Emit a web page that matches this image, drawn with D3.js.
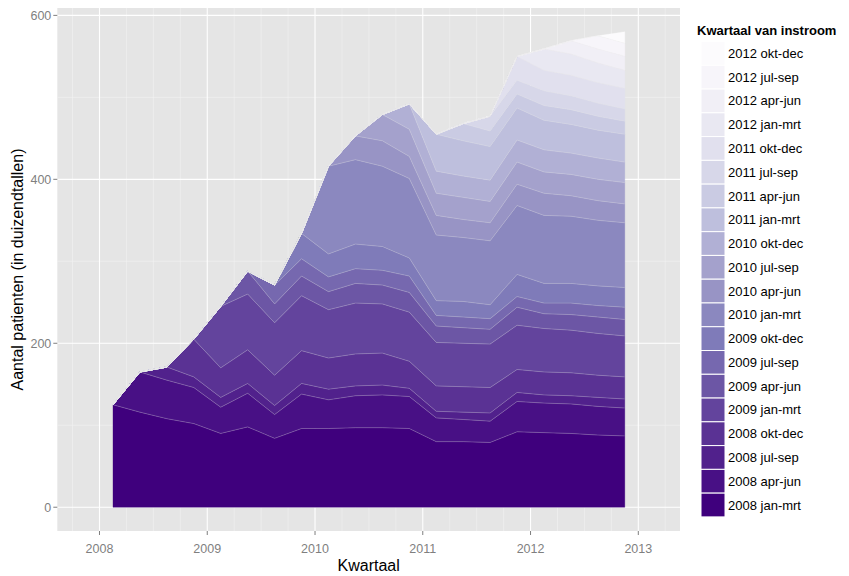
<!DOCTYPE html>
<html><head><meta charset="utf-8">
<script src="https://cdn.jsdelivr.net/npm/d3@7"></script>
<style>
body{margin:0;background:#fff}
text{font-family:"Liberation Sans",Arial,Helvetica,sans-serif}
</style>
</head><body>
<svg id="chart" width="849" height="576"></svg>
<script>
// Quarter midpoints (decimal years)
const kwartaal = [2008.125,2008.375,2008.625,2008.875,2009.125,2009.375,2009.625,2009.875,
                  2010.125,2010.375,2010.625,2010.875,2011.125,2011.375,2011.625,2011.875,
                  2012.125,2012.375,2012.625,2012.875];
const cohortLabels = ["2008 jan-mrt","2008 apr-jun","2008 jul-sep","2008 okt-dec",
                      "2009 jan-mrt","2009 apr-jun","2009 jul-sep","2009 okt-dec",
                      "2010 jan-mrt","2010 apr-jun","2010 jul-sep","2010 okt-dec",
                      "2011 jan-mrt","2011 apr-jun","2011 jul-sep","2011 okt-dec",
                      "2012 jan-mrt","2012 apr-jun","2012 jul-sep","2012 okt-dec"];
const xTicks = [2008,2009,2010,2011,2012,2013];
const yTicks = [0,200,400,600];

// Patients (thousands) per inflow cohort, per quarter
const c2008q1 = [125,116,108,102,90,98,84,96,96,97,97,96,80,80,79,92,91,90,88,87];
const c2008q2 = [0,49,47,44,32,41,29,42,35,39,40,39,29,27,26,37,36,36,35,34];
const c2008q3 = [0,0,16,13,12,12,11,13,13,12,12,10,8,9,10,11,10,10,11,11];
const c2008q4 = [0,0,0,46,36,41,37,40,38,39,39,33,31,31,31,28,28,28,27,27];
const c2009q1 = [0,0,0,0,75,68,64,67,59,62,60,60,53,53,53,54,53,52,51,50];
const c2009q2 = [0,0,0,0,0,28,23,24,22,24,23,24,20,19,18,22,18,19,20,20];
const c2009q3 = [0,0,0,0,0,0,23,21,18,18,18,20,13,13,13,13,13,14,14,15];
const c2009q4 = [0,0,0,0,0,0,0,31,28,30,29,22,18,19,17,27,24,24,24,24];
const c2010q1 = [0,0,0,0,0,0,0,0,107,103,98,97,80,78,78,84,83,82,80,79];
const c2010q2 = [0,0,0,0,0,0,0,0,0,29,31,27,24,22,22,26,27,25,24,23];
const c2010q3 = [0,0,0,0,0,0,0,0,0,0,32,33,27,27,26,27,26,26,26,26];
const c2010q4 = [0,0,0,0,0,0,0,0,0,0,0,31,27,26,26,27,27,26,26,25];
const c2011q1 = [0,0,0,0,0,0,0,0,0,0,0,0,45,43,41,39,36,35,34,34];
const c2011q2 = [0,0,0,0,0,0,0,0,0,0,0,0,0,21,19,17,18,18,17,16];
const c2011q3 = [0,0,0,0,0,0,0,0,0,0,0,0,0,0,18,17,18,17,16,15];
const c2011q4 = [0,0,0,0,0,0,0,0,0,0,0,0,0,0,0,29,25,25,25,25];
const c2012q1 = [0,0,0,0,0,0,0,0,0,0,0,0,0,0,0,0,26,26,24,22];
const c2012q2 = [0,0,0,0,0,0,0,0,0,0,0,0,0,0,0,0,0,16,17,17];
const c2012q3 = [0,0,0,0,0,0,0,0,0,0,0,0,0,0,0,0,0,0,16,16];
const c2012q4 = [0,0,0,0,0,0,0,0,0,0,0,0,0,0,0,0,0,0,0,14];

const series = [c2008q1,c2008q2,c2008q3,c2008q4,c2009q1,c2009q2,c2009q3,c2009q4,
                c2010q1,c2010q2,c2010q3,c2010q4,c2011q1,c2011q2,c2011q3,c2011q4,
                c2012q1,c2012q2,c2012q3,c2012q4];

const table = kwartaal.map((t,i) => {
  const row = {t};
  cohortLabels.forEach((c,k) => row[c] = series[k][i]);
  return row;
});

const purples = ["#fcfbfd","#efedf5","#dadaeb","#bcbddc","#9e9ac8","#807dba","#6a51a3","#54278f","#3f007d"];
const ramp = d3.piecewise(d3.interpolateRgb, purples);
const color = d3.scaleOrdinal().domain(cohortLabels)
  .range(cohortLabels.map((c,k) => ramp(1 - k/(cohortLabels.length-1))));

const P = {l:57.3, r:680, t:8, b:531};
const svg = d3.select("#chart");
const x = d3.scaleLinear().domain([2007.6084, 2013.387]).range([P.l, P.r]);
const y = d3.scaleLinear().domain([-29, 609]).range([P.b, P.t]);

// panel
svg.append("rect").attr("x",P.l).attr("y",P.t).attr("width",P.r-P.l).attr("height",P.b-P.t).attr("fill","#e5e5e5");

// minor grid
const minorX = d3.range(2007.75, 2013.3, 0.25).filter(v => Math.abs(v - Math.round(v)) > 0.01);
svg.append("g").selectAll("line").data(minorX).join("line")
  .attr("x1",d=>x(d)).attr("x2",d=>x(d)).attr("y1",P.t).attr("y2",P.b)
  .attr("stroke","#f2f2f2").attr("stroke-width",0.6);
svg.append("g").selectAll("line").data([100,300,500]).join("line")
  .attr("y1",d=>y(d)).attr("y2",d=>y(d)).attr("x1",P.l).attr("x2",P.r)
  .attr("stroke","#f2f2f2").attr("stroke-width",0.6);
// major grid
svg.append("g").selectAll("line").data(xTicks).join("line")
  .attr("x1",d=>x(d)).attr("x2",d=>x(d)).attr("y1",P.t).attr("y2",P.b)
  .attr("stroke","#ffffff").attr("stroke-width",1.1);
svg.append("g").selectAll("line").data(yTicks).join("line")
  .attr("y1",d=>y(d)).attr("y2",d=>y(d)).attr("x1",P.l).attr("x2",P.r)
  .attr("stroke","#ffffff").attr("stroke-width",1.1);

// stacked areas
const stack = d3.stack().keys(cohortLabels);
const layers = stack(table);
const area = d3.area().x(d=>x(d.data.t)).y0(d=>y(d[0])).y1(d=>y(d[1]));
const topLine = d3.line().x(d=>x(d.data.t)).y(d=>y(d[1]));
const g = svg.append("g");
g.selectAll("path.a").data(layers).join("path").attr("class","a")
  .attr("d",area).attr("fill",d=>color(d.key)).attr("stroke",d=>color(d.key)).attr("stroke-width",0.3);
g.selectAll("path.l").data(layers.slice(0,-1)).join("path").attr("class","l")
  .attr("d",topLine).attr("fill","none").attr("stroke","#e5e5e5").attr("stroke-opacity",0.35).attr("stroke-width",0.7);

// axes
const axisCol = "#7f7f7f";
const xa = svg.append("g");
xa.selectAll("line").data(xTicks).join("line")
  .attr("x1",d=>x(d)).attr("x2",d=>x(d)).attr("y1",P.b).attr("y2",P.b+4)
  .attr("stroke",axisCol).attr("stroke-width",1);
xa.selectAll("text").data(xTicks).join("text")
  .attr("x",d=>x(d)).attr("y",P.b+22).attr("text-anchor","middle")
  .attr("font-size",12.5).attr("fill",axisCol).text(d=>d);
const ya = svg.append("g");
ya.selectAll("line").data(yTicks).join("line")
  .attr("x1",P.l-4).attr("x2",P.l).attr("y1",d=>y(d)).attr("y2",d=>y(d))
  .attr("stroke",axisCol).attr("stroke-width",1);
ya.selectAll("text").data(yTicks).join("text")
  .attr("x",P.l-6).attr("y",d=>y(d)).attr("dy","0.35em").attr("text-anchor","end")
  .attr("font-size",12.5).attr("fill",axisCol).text(d=>d);

svg.append("text").attr("x",(P.l+P.r)/2).attr("y",571).attr("text-anchor","middle")
  .attr("font-size",16).attr("fill","#000").text("Kwartaal");
svg.append("text").attr("transform",`translate(23,${(P.t+P.b)/2}) rotate(-90)`)
  .attr("text-anchor","middle").attr("font-size",16).attr("fill","#000")
  .text("Aantal patienten (in duizendtallen)");

// legend
const lg = svg.append("g");
lg.append("text").attr("x",697).attr("y",35).attr("font-size",13).attr("font-weight","bold")
  .text("Kwartaal van instroom");
const legendOrder = cohortLabels.slice().reverse();
const kh = 23.77, ky0 = 41.5;
lg.selectAll("rect").data(legendOrder).join("rect")
  .attr("x",701).attr("y",(d,i)=>ky0+i*kh).attr("width",24).attr("height",kh)
  .attr("fill",d=>color(d)).attr("stroke","#ffffff").attr("stroke-width",1);
lg.selectAll("text.k").data(legendOrder).join("text").attr("class","k")
  .attr("x",728).attr("y",(d,i)=>ky0+i*kh+kh/2).attr("dy","0.35em")
  .attr("font-size",13).attr("fill","#000").text(d=>d);
</script>
</body></html>
